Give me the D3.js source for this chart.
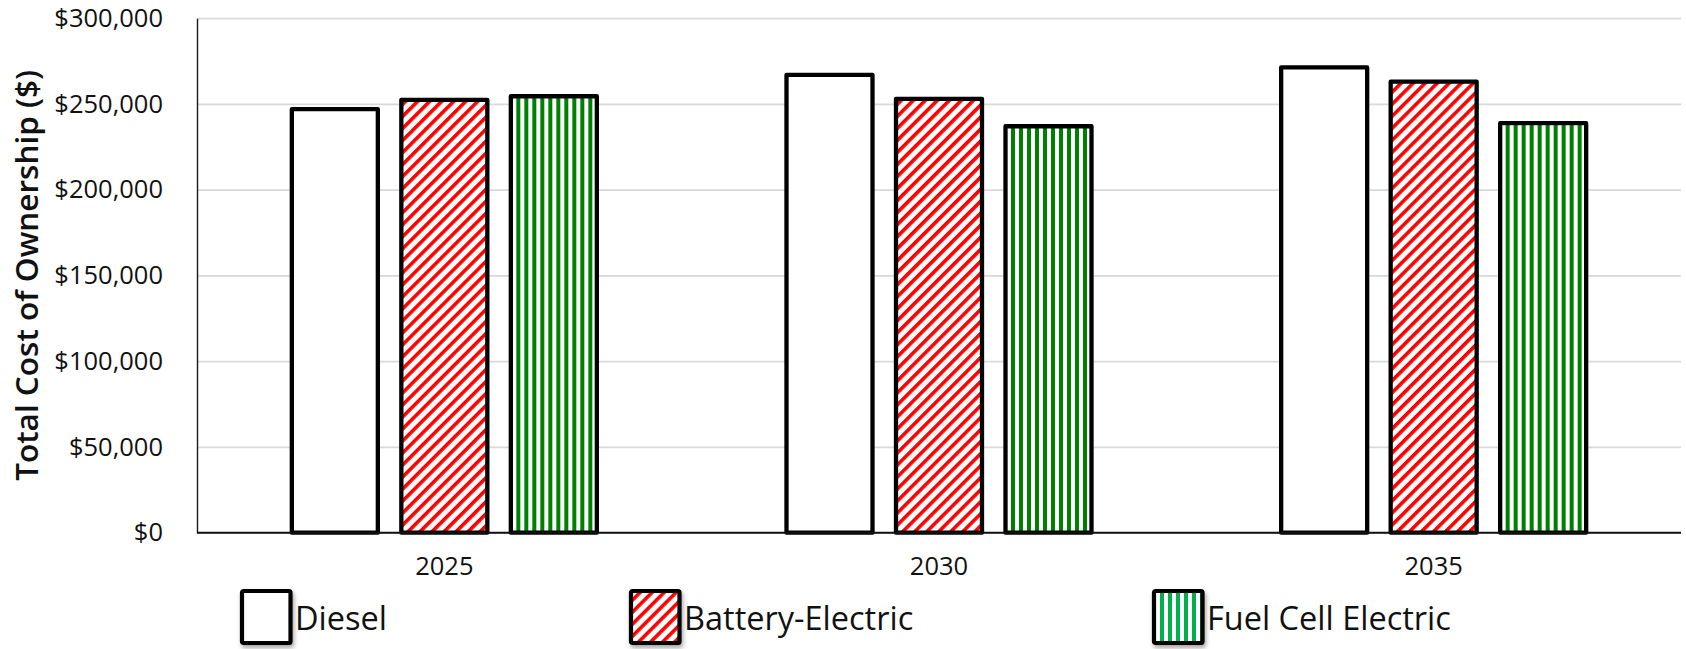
<!DOCTYPE html>
<html>
<head>
<meta charset="utf-8">
<script src="https://cdn.jsdelivr.net/npm/d3@7/dist/d3.min.js"></script>
<style>
  html, body { margin: 0; padding: 0; background: #ffffff; }
  svg { display: block; font-family: "Open Sans", "Liberation Sans", sans-serif; }
</style>
</head>
<body>
<svg id="chart" width="1686" height="649"></svg>
<script>
// Total cost of ownership by powertrain and model year
const years = ["2025", "2030", "2035"];
const seriesNames = ["Diesel", "Battery-Electric", "Fuel Cell Electric"];
const diesel = [247000, 267000, 271300];
const batteryElectric = [252400, 253000, 263000];
const fuelCellElectric = [254500, 237000, 238800];
const yTicks = [0, 50000, 100000, 150000, 200000, 250000, 300000];

const seriesValues = [diesel, batteryElectric, fuelCellElectric];
const fills = ["#ffffff", "url(#diag-red)", "url(#vert-green)"];
const legendFills = ["#ffffff", "url(#diag-red)", "url(#vert-green-legend)"];

const svg = d3.select("#chart");
const plotLeft = 197, plotRight = 1681, plotTop = 18.2, plotBottom = 532.7;

const x0 = d3.scaleBand().domain(years).range([plotLeft, plotRight]).padding(0);
const x1 = d3.scaleBand().domain(seriesNames).range([-152.5, 152.5])
  .paddingInner(0.2146).paddingOuter(0);
const y = d3.scaleLinear().domain([0, 300000]).range([plotBottom, plotTop]);

// fill patterns
const defs = svg.append("defs");
const diag = defs.append("pattern").attr("id", "diag-red")
  .attr("patternUnits", "userSpaceOnUse").attr("width", 8.5).attr("height", 8.5)
  .attr("patternTransform", "rotate(45)");
diag.append("rect").attr("width", 8.5).attr("height", 8.5).attr("fill", "#ffffff");
diag.append("rect").attr("width", 3.6).attr("height", 8.5).attr("fill", "#ff0000");

function vertical(id, color) {
  const p = defs.append("pattern").attr("id", id)
    .attr("patternUnits", "userSpaceOnUse").attr("width", 8).attr("height", 8);
  p.append("rect").attr("width", 8).attr("height", 8).attr("fill", "#ffffff");
  p.append("rect").attr("width", 4).attr("height", 8).attr("fill", color);
}
vertical("vert-green", "#008000");
vertical("vert-green-legend", "#00b050");

const shadow = defs.append("filter").attr("id", "swatch-shadow")
  .attr("x", "-30%").attr("y", "-30%").attr("width", "170%").attr("height", "170%");
shadow.append("feDropShadow").attr("dx", 1.5).attr("dy", 3).attr("stdDeviation", 2.2)
  .attr("flood-color", "#000").attr("flood-opacity", 0.35);

// gridlines
svg.append("g")
  .attr("transform", `translate(${plotLeft},0)`)
  .call(d3.axisLeft(y).tickValues(yTicks).tickSize(-(plotRight - plotLeft)).tickFormat(""))
  .call(g => g.select(".domain").remove())
  .call(g => g.selectAll("line").attr("stroke", "#d9d9d9").attr("stroke-width", 1.8));

// y axis with labels
const yAxis = svg.append("g")
  .attr("transform", `translate(${plotLeft},0)`)
  .call(d3.axisLeft(y).tickValues(yTicks).tickSize(0).tickSizeOuter(0).tickPadding(34)
    .tickFormat(d => "$" + d3.format(",")(d)));
yAxis.select(".domain").attr("stroke", "#1a1a1a").attr("stroke-width", 1.4);
yAxis.selectAll("text").attr("font-size", 25.5).attr("fill", "#111")
  .attr("font-family", "'Open Sans', sans-serif");

// bars
const groups = svg.append("g").selectAll("g")
  .data(years).join("g")
  .attr("transform", d => `translate(${x0(d) + x0.bandwidth() / 2},0)`);

groups.selectAll("rect")
  .data((yr, i) => seriesNames.map((s, j) => ({ s, j, v: seriesValues[j][i] })))
  .join("rect")
  .attr("x", d => x1(d.s))
  .attr("width", x1.bandwidth())
  .attr("y", d => y(d.v))
  .attr("height", d => y(0) - y(d.v))
  .attr("fill", d => fills[d.j])
  .attr("stroke", "#000")
  .attr("stroke-width", 4.3)
  .attr("stroke-linejoin", "round");

// x axis
const xAxis = svg.append("g")
  .attr("transform", `translate(0,${plotBottom})`)
  .call(d3.axisBottom(x0).tickSize(0).tickSizeOuter(0).tickPadding(24));
xAxis.select(".domain").attr("stroke", "#111").attr("stroke-width", 2)
  .attr("d", `M${plotLeft},0H${plotRight}`);
xAxis.selectAll("text").attr("font-size", 25.5).attr("fill", "#111")
  .attr("font-family", "'Open Sans', sans-serif");

// y axis title
svg.append("text")
  .attr("transform", `translate(38,${(plotTop + plotBottom) / 2}) rotate(-90)`)
  .attr("text-anchor", "middle")
  .attr("font-size", 31.5)
  .attr("font-weight", 600)
  .attr("fill", "#111")
  .text("Total Cost of Ownership ($)");

// legend
const legendX = [240, 629, 1152];
const legend = svg.append("g").selectAll("g")
  .data(seriesNames).join("g")
  .attr("transform", (d, i) => `translate(${legendX[i]},589)`);
legend.append("rect")
  .attr("x", 2).attr("y", 2).attr("width", 48.5).attr("height", 52)
  .attr("rx", 1.5)
  .attr("fill", (d, i) => legendFills[i])
  .attr("stroke", "#000").attr("stroke-width", 4.2)
  .attr("stroke-linejoin", "round")
  .attr("filter", "url(#swatch-shadow)");
legend.append("text")
  .attr("x", 55).attr("y", 41)
  .attr("font-size", 32.5)
  .attr("fill", "#111")
  .text(d => d);
</script>
</body>
</html>
